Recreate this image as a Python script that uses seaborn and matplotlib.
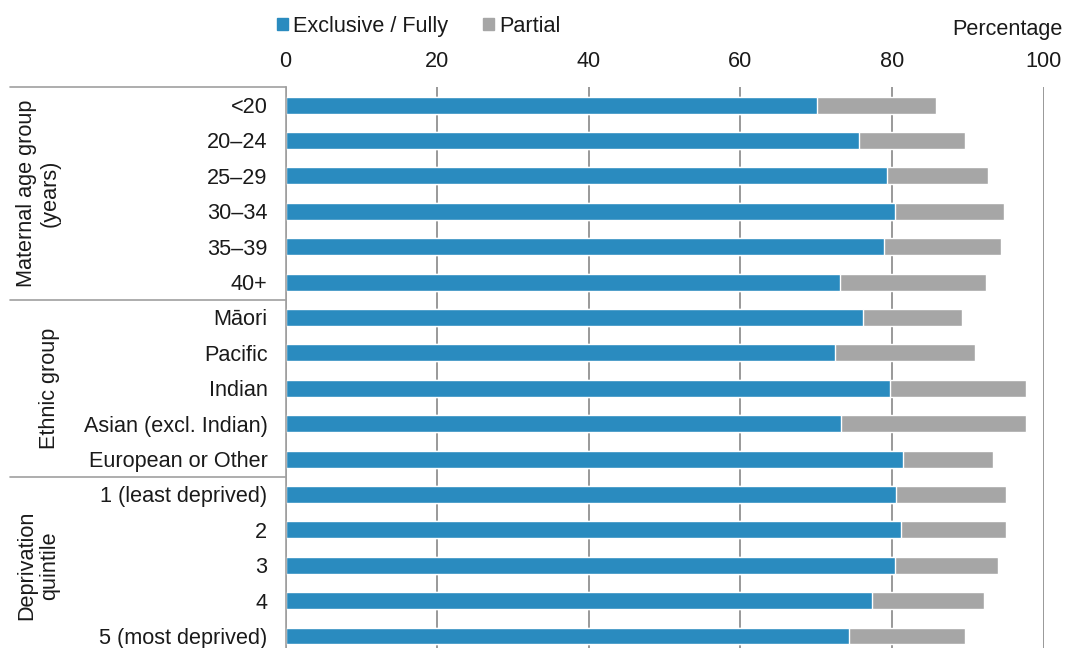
import seaborn as sns, numpy as np, pandas as pd, matplotlib.pyplot as plt
from matplotlib.patches import Patch

# data
categorias = ['<20', '20–24', '25–29', '30–34', '35–39', '40+',
              'Māori', 'Pacific', 'Indian', 'Asian (excl. Indian)', 'European or Other',
              '1 (least deprived)', '2', '3', '4', '5 (most deprived)']
exclusivo = [70.1, 75.7, 79.4, 80.4, 79.0, 73.1,
             76.2, 72.5, 79.7, 73.3, 81.4,
             80.6, 81.2, 80.4, 77.4, 74.3]
parcial = [15.7, 14.0, 13.3, 14.4, 15.4, 19.3,
           13.0, 18.5, 18.0, 24.4, 11.9,
           14.5, 13.8, 13.6, 14.8, 15.3]
grupos = ['Maternal age group\n(years)', 'Ethnic group', 'Deprivation\nquintile']
grupo_inicio = [0, 6, 11]
grupo_fim = [5, 10, 15]

azul = '#2A8BBF'
cinza = '#A6A6A6'
linha = '#A0A0A0'
texto = '#1a1a1a'

sns.set_style('white')
plt.rcParams['font.family'] = ['Liberation Sans', 'DejaVu Sans']
plt.rcParams['font.size'] = 15.6
plt.rcParams['text.color'] = texto
plt.rcParams['xtick.color'] = texto
plt.rcParams['ytick.color'] = texto

df = pd.DataFrame({'categoria': categorias, 'exclusivo': exclusivo, 'parcial': parcial})
df['total'] = df['exclusivo'] + df['parcial']

fig = plt.figure(figsize=(10.65, 6.48), dpi=100)
ax = fig.add_axes([285.5 / 1065, -0.0088, 758 / 1065, 0.874])

sns.barplot(data=df, y='categoria', x='total', color=cinza, saturation=1, width=0.48, orient='h', ax=ax)
sns.barplot(data=df, y='categoria', x='exclusivo', color=azul, saturation=1, width=0.48, orient='h', ax=ax)

ax.set_xlim(0, 100)
ax.set_ylim(15.5, -0.5)
ax.set_xlabel('')
ax.set_ylabel('')
ax.xaxis.tick_top()
ax.set_xticks([0, 20, 40, 60, 80, 100])
ax.tick_params(axis='x', length=0, pad=11)
ax.tick_params(axis='y', length=0, pad=13)
ax.grid(axis='x', color='#878787', lw=1.2)
ax.set_axisbelow(True)
for s in ['top', 'right', 'bottom']:
    ax.spines[s].set_visible(False)
ax.spines['left'].set_color(linha)
ax.spines['left'].set_linewidth(1.2)

# linhas separando os grupos
tr = ax.get_yaxis_transform()
x0 = (10 - 285.5) / 758
for y in [-0.5, 5.5, 10.5]:
    ax.plot([x0, 0], [y, y], transform=tr, color=linha, lw=1.2, clip_on=False)

# rotulos dos grupos
posx = [(38 - 285.5) / 758, (49 - 285.5) / 758, (38 - 285.5) / 758]
for g, a, b, px in zip(grupos, grupo_inicio, grupo_fim, posx):
    ax.text(px, (a + b) / 2, g, transform=tr, rotation=90, ha='center', va='center',
            multialignment='center', linespacing=1.15)

# legenda
handles = [Patch(color=azul, label='Exclusive / Fully'), Patch(color=cinza, label='Partial')]
fig.legend(handles=handles, loc='center left', bbox_to_anchor=(277 / 1065, 1 - 26.5 / 648), ncol=2,
           frameon=False, handlelength=0.5, handleheight=0.5, handletextpad=0.25,
           columnspacing=1.6, borderpad=0, borderaxespad=0)

fig.text(1063 / 1065, 1 - 30 / 648, 'Percentage', ha='right', va='center')

fig.savefig('out.png', dpi=100)
